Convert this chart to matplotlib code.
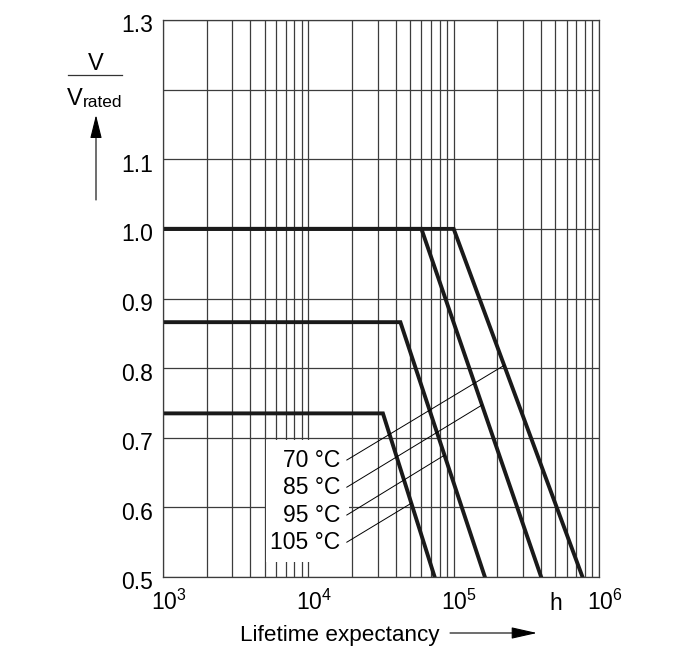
import matplotlib
matplotlib.use('Agg')
import matplotlib.pyplot as plt
import matplotlib.transforms as mtransforms
from matplotlib.patches import Rectangle
from matplotlib.lines import Line2D
import numpy as np

plt.rcParams['font.family'] = ['Liberation Sans', 'DejaVu Sans']
plt.rcParams['mathtext.fontset'] = 'custom'
plt.rcParams['mathtext.rm'] = 'Liberation Sans'
plt.rcParams['mathtext.it'] = 'Liberation Sans:italic'

# derating curves: flat at v_flat up to the knee, then falling to 0.5 at the end
temps = ['70 °C', '85 °C', '95 °C', '105 °C']
v_flat = [1.0, 1.0, 0.866, 0.735]
knee_h = [1.0e5, 6.0e4, 4.3e4, 3.26e4]
end_h = [7.7e5, 4.0e5, 1.64e5, 7.4e4]
start_h = 1e3
v_end = 0.5

# label text positions and where the leader lines touch the curves
label_v = [0.668, 0.629, 0.589, 0.550]
leader_v = [0.804, 0.747, 0.675, 0.606]

yticks = [0.5, 0.6, 0.7, 0.8, 0.9, 1.0, 1.1, 1.2, 1.3]
ylabels = ['0.5', '0.6', '0.7', '0.8', '0.9', '1.0', '1.1', '', '1.3']
xticks = [1e3, 1e4, 1e5, 5e5, 1e6]
xlabels = [r'$\mathregular{10^{3}}$', r'$\mathregular{10^{4}}$',
           r'$\mathregular{10^{5}}$', 'h', r'$\mathregular{10^{6}}$']

W, H = 686, 654
grid_c = '#3c3c3c'


def fp(x, y):
    # image pixel (top-left origin) -> figure fraction
    return x / W, 1 - y / H


fig = plt.figure(figsize=(W / 100, H / 100), dpi=100)
ax = fig.add_axes([163 / W, 77 / H, 436 / W, 557 / H])
ax.set_xscale('log')
ax.set_xlim(1e3, 1e6)
ax.set_ylim(0.5, 1.3)

ax.set_axisbelow(True)
ax.grid(which='both', axis='x', color=grid_c, lw=0.9)
ax.grid(which='major', axis='y', color=grid_c, lw=0.9)
for s in ax.spines.values():
    s.set_color(grid_c)
    s.set_linewidth(0.9)

ax.set_yticks(yticks, ylabels)
ax.set_xticks(xticks, xlabels)
ax.xaxis.set_minor_locator(matplotlib.ticker.LogLocator(base=10, subs=np.arange(2, 10)))
ax.xaxis.set_minor_formatter(matplotlib.ticker.NullFormatter())
ax.tick_params(which='both', length=0)
ax.tick_params(axis='y', pad=7, labelsize=16.5)
ax.tick_params(axis='x', pad=24, labelsize=16.5)

for i, lab in enumerate(ax.get_xticklabels()):
    lab.set_va('baseline')
    if xlabels[i] != 'h':
        lab.set_transform(lab.get_transform() +
                          mtransforms.ScaledTranslation(4 / 72, 0, fig.dpi_scale_trans))
for lab in ax.get_yticklabels():
    lab.set_transform(lab.get_transform() +
                      mtransforms.ScaledTranslation(0, -2.5 / 72, fig.dpi_scale_trans))

# white area behind the temperature labels
ax.add_patch(Rectangle((5.15e3, 0.5215), 1.9e4 - 5.15e3, 0.697 - 0.5215,
                       facecolor='white', edgecolor='none', zorder=1))

for v, k, e in zip(v_flat, knee_h, end_h):
    ax.plot([start_h, k, e], [v, v, v_end], color='#1a1a1a', lw=2.8,
            solid_joinstyle='miter', zorder=2)

for t, lv, cv, v, k, e in zip(temps, label_v, leader_v, v_flat, knee_h, end_h):
    ax.text(1.65e4, lv, t, ha='right', va='center', fontsize=16.5, zorder=3)
    # point on the sloped part of the curve at height cv
    frac = (v - cv) / (v - v_end)
    cx = 10 ** (np.log10(k) + frac * (np.log10(e) - np.log10(k)))
    ax.plot([1.84e4, cx], [lv, cv], color='black', lw=0.7, zorder=3)

# y axis label  V / V_rated with arrow
fig.text(*fp(96, 70), 'V', ha='center', va='baseline', fontsize=17)
fig.add_artist(Line2D([68 / W, 122 / W], [1 - 75 / H, 1 - 75 / H],
                      color='#333333', lw=0.9))
fig.text(*fp(83, 105), 'V', ha='right', va='baseline', fontsize=17)
fig.text(*fp(83, 107), 'rated', ha='left', va='baseline', fontsize=12.5)
ax.annotate('', xy=(96, H - 115), xytext=(96, H - 200), xycoords='figure pixels',
            textcoords='figure pixels', annotation_clip=False,
            arrowprops=dict(arrowstyle='-|>,head_length=1.45,head_width=0.36',
                            color='black', lw=0.8, shrinkA=0, shrinkB=0,
                            mutation_scale=10))

# x axis label with arrow
fig.text(*fp(240, 641), 'Lifetime expectancy', ha='left', va='baseline', fontsize=16.2)
ax.annotate('', xy=(537, H - 633), xytext=(450, H - 633), xycoords='figure pixels',
            textcoords='figure pixels', annotation_clip=False,
            arrowprops=dict(arrowstyle='-|>,head_length=1.6,head_width=0.36',
                            color='black', lw=0.8, shrinkA=0, shrinkB=0,
                            mutation_scale=10))

fig.savefig('out.png', dpi=100)
